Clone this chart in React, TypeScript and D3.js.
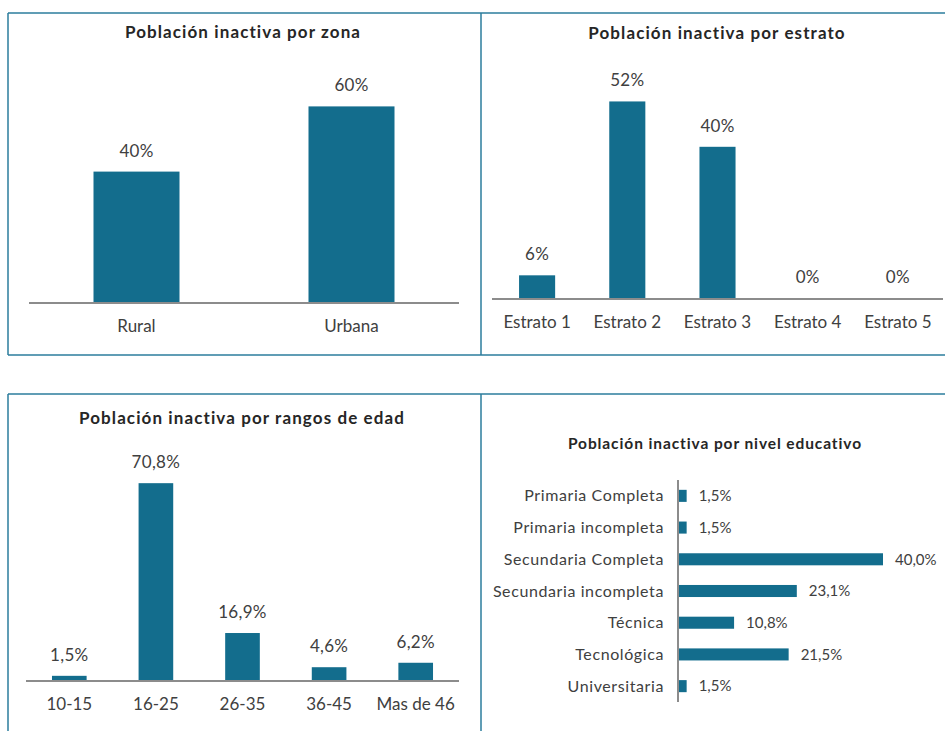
import React from 'react';
import * as d3 from 'd3';

// data
const zonaCats = ['Rural', 'Urbana'];
const zonaVals = [40, 60];

const estratoCats = ['Estrato 1', 'Estrato 2', 'Estrato 3', 'Estrato 4', 'Estrato 5'];
const estratoVals = [6, 52, 40, 0, 0];

const edadCats = ['10-15', '16-25', '26-35', '36-45', 'Mas de 46'];
const edadVals = [1.5, 70.8, 16.9, 4.6, 6.2];

const educCats = [
  'Primaria Completa',
  'Primaria incompleta',
  'Secundaria Completa',
  'Secundaria incompleta',
  'Técnica',
  'Tecnológica',
  'Universitaria',
];
const educVals = [1.5, 1.5, 40.0, 23.1, 10.8, 21.5, 1.5];

const BAR = '#136d8d';
const AXIS = '#8c8c8c';
const BORDER = '#2b7d9c';
const TXT = '#404040';
const TITLE = '#262626';
const FONT = 'Lato, "Open Sans", sans-serif';

const es = d3.formatLocale({ decimal: ',', thousands: '.', grouping: [3], currency: ['', ''] });
const fmtInt = (v: number) => es.format('.0f')(v) + '%';
const fmtDec = (v: number) => es.format('.1f')(v) + '%';

type ColProps = {
  title: string;
  titleX: number;
  titleY: number;
  cats: string[];
  vals: number[];
  x0: number;
  x1: number;
  base: number;
  pxPerUnit: number;
  fmt: (v: number) => string;
};

function ColumnPanel({ title, titleX, titleY, cats, vals, x0, x1, base, pxPerUnit, fmt }: ColProps) {
  const x = d3.scaleBand<string>().domain(cats).range([x0, x1]).paddingInner(0.6).paddingOuter(0.3);
  const y = d3.scaleLinear().domain([0, 100]).range([base, base - 100 * pxPerUnit]);
  return (
    <g>
      <text x={titleX} y={titleY} textAnchor="middle" fontSize={17} fontWeight={700} letterSpacing={1.1} fill={TITLE}>
        {title}
      </text>
      {cats.map((c, i) => (
        <g key={c}>
          {vals[i] > 0 && (
            <rect x={x(c)} y={y(vals[i])} width={x.bandwidth()} height={y(0) - y(vals[i])} fill={BAR} />
          )}
          <text x={(x(c) as number) + x.bandwidth() / 2} y={y(vals[i]) - 15} textAnchor="middle" fontSize={17} letterSpacing={0.3} fill={TXT}>
            {fmt(vals[i])}
          </text>
          <text x={(x(c) as number) + x.bandwidth() / 2} y={base + 30} textAnchor="middle" fontSize={17} fill={TXT}>
            {c}
          </text>
        </g>
      ))}
      <line x1={x0} x2={x1} y1={base + 1} y2={base + 1} stroke={AXIS} strokeWidth={2} />
    </g>
  );
}

function BarPanel() {
  const y = d3.scaleBand<string>().domain(educCats).range([480, 702]).paddingInner(0.62).paddingOuter(0.31);
  const x = d3.scaleLinear().domain([0, 100]).range([679, 679 + 510]);
  return (
    <g>
      <text x={715} y={449} textAnchor="middle" fontSize={15.5} fontWeight={700} letterSpacing={0.9} fill={TITLE}>
        Población inactiva por nivel educativo
      </text>
      {educCats.map((c, i) => {
        const cy = (y(c) as number) + y.bandwidth() / 2;
        return (
          <g key={c}>
            <rect x={x(0)} y={y(c)} width={x(educVals[i]) - x(0)} height={y.bandwidth()} fill={BAR} />
            <text x={x(educVals[i]) + 12} y={cy} dy="0.35em" fontSize={15} fill={TXT}>
              {fmtDec(educVals[i])}
            </text>
            <text x={664} y={cy} dy="0.35em" textAnchor="end" fontSize={16} letterSpacing={0.6} fill={TXT}>
              {c}
            </text>
          </g>
        );
      })}
      <line x1={678} x2={678} y1={480} y2={702} stroke={AXIS} strokeWidth={2} />
    </g>
  );
}

export default function App() {
  return (
    <div style={{ position: 'absolute', left: 0, top: 0 }}>
      <svg width={945} height={731} style={{ display: 'block', fontFamily: FONT }}>
        <rect width={945} height={731} fill="#fff" />
        {/* panel frames */}
        <g stroke={BORDER} strokeWidth={1.5} fill="none">
          <line x1={8} x2={945} y1={13} y2={13} />
          <line x1={8} x2={945} y1={355} y2={355} />
          <line x1={8} x2={8} y1={13} y2={355} />
          <line x1={481} x2={481} y1={13} y2={355} />
          <line x1={8} x2={945} y1={394} y2={394} />
          <line x1={8} x2={8} y1={394} y2={731} />
          <line x1={481} x2={481} y1={394} y2={731} />
        </g>
        <ColumnPanel
          title="Población inactiva por zona"
          titleX={243}
          titleY={38}
          cats={zonaCats}
          vals={zonaVals}
          x0={29}
          x1={459}
          base={302}
          pxPerUnit={3.26}
          fmt={fmtInt}
        />
        <ColumnPanel
          title="Población inactiva por estrato"
          titleX={717}
          titleY={39}
          cats={estratoCats}
          vals={estratoVals}
          x0={492}
          x1={943}
          base={298}
          pxPerUnit={3.78}
          fmt={fmtInt}
        />
        <ColumnPanel
          title="Población inactiva por rangos de edad"
          titleX={242}
          titleY={424}
          cats={edadCats}
          vals={edadVals}
          x0={26}
          x1={459}
          base={680}
          pxPerUnit={2.78}
          fmt={fmtDec}
        />
        <BarPanel />
      </svg>
    </div>
  );
}
